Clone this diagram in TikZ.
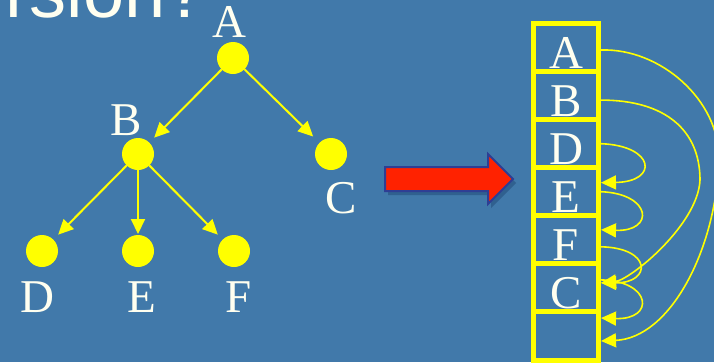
\documentclass[tikz,border=0pt]{standalone}
\usepackage{fontspec}
\setmainfont{Liberation Serif}
\newfontfamily\headfont{Liberation Sans}
\usetikzlibrary{arrows.meta, calc}
\definecolor{slideblue}{RGB}{65,121,170}
\definecolor{treeyellow}{RGB}{255,255,0}
\definecolor{cream}{RGB}{255,255,240}
\definecolor{arrowred}{RGB}{255,34,0}
\definecolor{arrowrim}{RGB}{46,62,148}
\definecolor{arrowshade}{RGB}{38,80,125}

\begin{document}
\begin{tikzpicture}[x=1pt, y=-1pt, >={Triangle[length=15pt, width=14pt]},
  dot/.style={circle, fill=treeyellow, minimum size=32pt, inner sep=0pt, outer sep=0pt},
  lbl/.style={text=cream, font=\fontsize{47}{47}\selectfont, inner sep=0pt, anchor=base},
  slot/.style={draw=treeyellow, line width=5pt, minimum width=65pt, minimum height=48.07pt, inner sep=0pt},
  treeline/.style={->, draw=treeyellow, line width=2pt},
  link/.style={->, draw=treeyellow, line width=1.6pt}]
  \fill[slideblue] (0,0) rectangle (714,362);
  \useasboundingbox (0,0) rectangle (714,362);
  \clip (0,0) rectangle (714,362);
  \node[text=cream, font=\headfont\fontsize{74}{74}\selectfont, inner sep=0pt, anchor=base west] (heading) at (5,17.5) {rsion?};
  % tree
  \node[dot] (dotA) at (233,58) {};
  \node[dot] (dotB) at (138,154) {};
  \node[dot] (dotC) at (331,154) {};
  \node[dot] (dotD) at (42,251) {};
  \node[dot] (dotE) at (138,251) {};
  \node[dot] (dotF) at (234,251) {};
  \node[lbl] (labA) at (229,37) {A};
  \node[lbl] (labB) at (126,135) {B};
  \node[lbl] (labC) at (341,213) {C};
  \node[lbl] (labD) at (37.5,312) {D};
  \node[lbl] (labE) at (142,312) {E};
  \node[lbl] (labF) at (239,312) {F};
  \draw[treeline, shorten >=7pt] (dotA) -- (dotB);
  \draw[treeline, shorten >=9pt] (dotA) -- (dotC);
  \draw[treeline, shorten >=7pt] (dotB) -- (dotD);
  \draw[treeline, shorten >=1pt] (dotB) -- (dotE);
  \draw[treeline, shorten >=7pt] (dotB) -- (dotF);
  % big arrow
  \fill[arrowshade, opacity=0.6, shift={(3,4)}] (385,167) -- (488,167) -- (488,154) -- (513,179) -- (488,204) -- (488,191) -- (385,191) -- cycle;
  \draw[draw=arrowrim, line width=2pt, fill=arrowred, line join=miter] (385,167) -- (488,167) -- (488,154) -- (513,179) -- (488,204) -- (488,191) -- (385,191) -- cycle;
  % array
  \node[slot] (slotA) at (566,47.5) {};
  \node[slot] (slotB) at (566,95.6) {};
  \node[slot] (slotD) at (566,143.7) {};
  \node[slot] (slotE) at (566,191.7) {};
  \node[slot] (slotF) at (566,239.8) {};
  \node[slot] (slotC) at (566,287.9) {};
  \node[slot] (slotEmpty) at (566,336) {};
  \node[lbl] (txtA) at ($(slotA.south)+(0,-6)$) {A};
  \node[lbl] (txtB) at ($(slotB.south)+(0,-6)$) {B};
  \node[lbl] (txtD) at ($(slotD.south)+(0,-6)$) {D};
  \node[lbl] (txtE) at ($(slotE.south)+(0,-6)$) {E};
  \node[lbl] (txtF) at ($(slotF.south)+(0,-6)$) {F};
  \node[lbl] (txtC) at ($(slotC.south)+(0,-6)$) {C};
  % links
  \draw[link] ($(slotA.east)+(0,2.5)$) .. controls (660,48) and (720,100) .. (719,160) .. controls (716,250) and (670,338) .. ($(slotEmpty.east)+(0,5)$);
  \draw[link] ($(slotB.east)+(0,4.5)$) .. controls (665,100) and (700,130) .. (700,180) .. controls (698,225) and (630,280) .. ($(slotC.east)+(0,-5)$);
  \draw[link] (slotD.east) .. controls +(54,2) and +(58,-1) .. ($(slotE.east)+(0,-9)$);
  \draw[link] (slotE.east) .. controls +(51,2) and +(54,2) .. ($(slotF.east)+(0,-10)$);
  \draw[link] ($(slotF.east)+(0,7)$) .. controls +(51,1) and +(51,0) .. ($(slotC.east)+(0,-5)$);
  \draw[link] ($(slotC.east)+(0,-8)$) .. controls +(51,1) and +(54,2) .. ($(slotEmpty.east)+(0,-18)$);
\end{tikzpicture}
\end{document}
